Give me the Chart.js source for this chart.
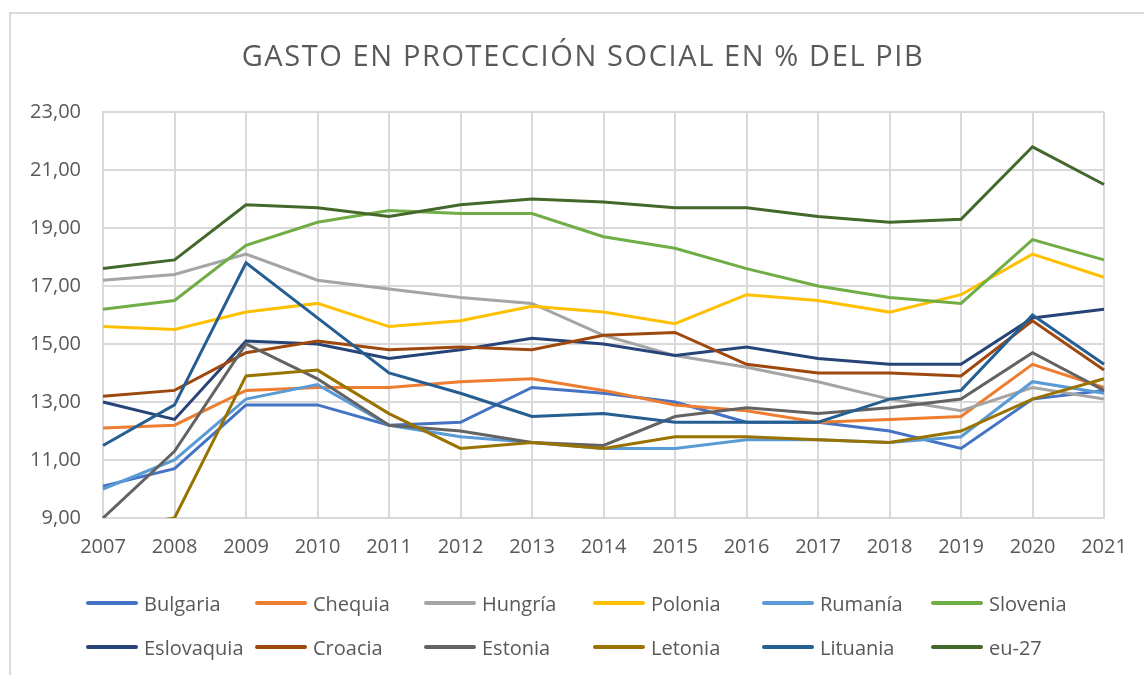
<!DOCTYPE html>
<html>
<head>
<meta charset="utf-8">
<script src="https://cdn.jsdelivr.net/npm/chart.js@4.4.1/dist/chart.umd.min.js"></script>
<style>
  html, body { margin: 0; padding: 0; background: #fff; }
  body { width: 1144px; height: 675px; position: relative; overflow: hidden; font-family: 'Open Sans', sans-serif; }
  #frame { position: absolute; left: 9px; top: 12px; width: 1200px; height: 700px; border-left: 2px solid #d9d9d9; border-top: 2px solid #d9d9d9; box-sizing: border-box; }
  #wrap { position: absolute; left: 0; top: 0; width: 1144px; height: 675px; }
  #legend { position: absolute; left: 86px; top: 586px; display: grid; grid-template-columns: repeat(6, 169px); grid-auto-rows: 44px; }
  .item { display: flex; align-items: center; height: 34px; color: #595959; font-size: 20px; white-space: nowrap; }
  .sw { width: 52px; height: 4px; border-radius: 2px; margin-right: 6px; flex: none; }
</style>
</head>
<body>
<div id="frame"></div>
<div id="wrap"><canvas id="c" width="1144" height="675"></canvas></div>
<div id="legend"></div>
<script>
const years = ['2007','2008','2009','2010','2011','2012','2013','2014','2015','2016','2017','2018','2019','2020','2021'];
const yTicks = [9, 11, 13, 15, 17, 19, 21, 23];
const titleText = 'GASTO EN PROTECCIÓN SOCIAL EN % DEL PIB';

const seriesNames = ['Bulgaria','Chequia','Hungría','Polonia','Rumanía','Slovenia','Eslovaquia','Croacia','Estonia','Letonia','Lituania','eu-27'];
const seriesColors = ['#4472C4','#ED7D31','#A5A5A5','#FFC000','#5B9BD5','#70AD47','#264478','#9E480E','#636363','#997300','#255E91','#43682B'];

const bulgaria   = [10.1, 10.7, 12.9, 12.9, 12.2, 12.3, 13.5, 13.3, 13.0, 12.3, 12.3, 12.0, 11.4, 13.1, 13.4];
const chequia    = [12.1, 12.2, 13.4, 13.5, 13.5, 13.7, 13.8, 13.4, 12.9, 12.7, 12.3, 12.4, 12.5, 14.3, 13.5];
const hungria    = [17.2, 17.4, 18.1, 17.2, 16.9, 16.6, 16.4, 15.3, 14.6, 14.2, 13.7, 13.1, 12.7, 13.5, 13.1];
const polonia    = [15.6, 15.5, 16.1, 16.4, 15.6, 15.8, 16.3, 16.1, 15.7, 16.7, 16.5, 16.1, 16.7, 18.1, 17.3];
const rumania    = [10.0, 11.0, 13.1, 13.6, 12.2, 11.8, 11.6, 11.4, 11.4, 11.7, 11.7, 11.6, 11.8, 13.7, 13.3];
const slovenia   = [16.2, 16.5, 18.4, 19.2, 19.6, 19.5, 19.5, 18.7, 18.3, 17.6, 17.0, 16.6, 16.4, 18.6, 17.9];
const eslovaquia = [13.0, 12.4, 15.1, 15.0, 14.5, 14.8, 15.2, 15.0, 14.6, 14.9, 14.5, 14.3, 14.3, 15.9, 16.2];
const croacia    = [13.2, 13.4, 14.7, 15.1, 14.8, 14.9, 14.8, 15.3, 15.4, 14.3, 14.0, 14.0, 13.9, 15.8, 14.1];
const estonia    = [9.0, 11.3, 15.0, 13.8, 12.2, 12.0, 11.6, 11.5, 12.5, 12.8, 12.6, 12.8, 13.1, 14.7, 13.4];
const letonia    = [8.6, 9.0, 13.9, 14.1, 12.6, 11.4, 11.6, 11.4, 11.8, 11.8, 11.7, 11.6, 12.0, 13.1, 13.8];
const lituania   = [11.5, 12.9, 17.8, 15.9, 14.0, 13.3, 12.5, 12.6, 12.3, 12.3, 12.3, 13.1, 13.4, 16.0, 14.3];
const eu27       = [17.6, 17.9, 19.8, 19.7, 19.4, 19.8, 20.0, 19.9, 19.7, 19.7, 19.4, 19.2, 19.3, 21.8, 20.5];

const seriesValues = [bulgaria, chequia, hungria, polonia, rumania, slovenia, eslovaquia, croacia, estonia, letonia, lituania, eu27];

const datasets = seriesNames.map((name, i) => ({
  label: name,
  data: seriesValues[i],
  borderColor: seriesColors[i],
  backgroundColor: seriesColors[i],
  borderWidth: 3,
  pointRadius: 0,
  pointHoverRadius: 0,
  tension: 0,
  fill: false,
  order: seriesNames.length - i
}));

const gridColor = '#d9d9d9';
const textColor = '#595959';

// Title styling: wider letter spacing and a small horizontal shift, applied only to the title block
const titleStyle = {
  id: 'titleStyle',
  afterLayout(chart) {
    const tb = chart.titleBlock;
    if (tb && !tb._styled) {
      const orig = tb.draw.bind(tb);
      tb.draw = function () {
        const ctx = chart.ctx;
        ctx.save();
        ctx.letterSpacing = '1.6px';
        ctx.translate(31, 0);
        orig();
        ctx.restore();
      };
      tb._styled = true;
    }
  }
};

new Chart(document.getElementById('c'), {
  type: 'line',
  data: { labels: years, datasets },
  plugins: [titleStyle],
  options: {
    responsive: false,
    animation: false,
    layout: { padding: { left: 0, right: 40, top: 0, bottom: 116 } },
    plugins: {
      legend: { display: false },
      tooltip: { enabled: false },
      title: {
        display: true,
        text: titleText,
        color: textColor,
        font: { family: 'Open Sans', size: 29, weight: 'normal', lineHeight: 1.2 },
        padding: { top: 40, bottom: 37.2 }
      }
    },
    scales: {
      x: {
        type: 'category',
        offset: false,
        grid: { color: gridColor, lineWidth: 2, drawTicks: false, offset: false },
        border: { color: gridColor, width: 2 },
        ticks: { color: textColor, font: { family: 'Open Sans', size: 20 }, padding: 17, maxRotation: 0, autoSkip: false },
        afterFit: (s) => { s.height = 41; }
      },
      y: {
        min: yTicks[0],
        max: yTicks[yTicks.length - 1],
        afterBuildTicks: (s) => { s.ticks = yTicks.map(v => ({ value: v })); },
        grid: { color: gridColor, lineWidth: 2, drawTicks: false },
        border: { color: gridColor, width: 2 },
        ticks: {
          color: textColor,
          font: { family: 'Open Sans', size: 20 },
          padding: 22,
          callback: (v) => Number(v).toFixed(2).replace('.', ',')
        },
        afterFit: (s) => { s.width = 103; }
      }
    }
  }
});

const legendEl = document.getElementById('legend');
seriesNames.forEach((name, i) => {
  const it = document.createElement('div');
  it.className = 'item';
  const sw = document.createElement('span');
  sw.className = 'sw';
  sw.style.background = seriesColors[i];
  const tx = document.createElement('span');
  tx.textContent = name;
  it.appendChild(sw);
  it.appendChild(tx);
  legendEl.appendChild(it);
});
</script>
</body>
</html>
